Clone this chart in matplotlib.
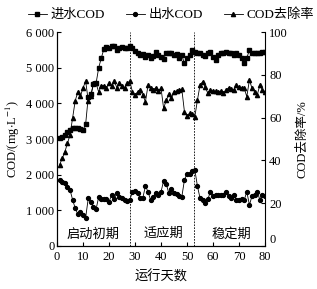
import numpy as np
import matplotlib
matplotlib.use("Agg")
import matplotlib.pyplot as plt

plt.rcParams['font.family'] = ['Liberation Serif', 'Noto Sans CJK SC']
plt.rcParams['mathtext.fontset'] = 'stix'
plt.rcParams['font.size'] = 9

# 运行天数
days = np.arange(1, 81)

# 进水COD (mg/L)
influent = [3020, 3060, 3110, 3200, 3250, 3300, 3310, 3300, 3280, 3250,
            3420, 4180, 4250, 4540, 4560, 4990, 5270, 5520, 5590, 5550,
            5600, 5600, 5500, 5550, 5580, 5540, 5560, 5600, 5560, 5480,
            5410, 5360, 5380, 5300, 5350, 5270, 5330, 5430, 5350, 5300,
            5240, 5420, 5400, 5400, 5370, 5390, 5280, 5350, 5120, 5260,
            5370, 5490, 5440, 5400, 5400, 5350, 5330, 5400, 5440, 5300,
            5210, 5370, 5400, 5400, 5440, 5400, 5400, 5350, 5400, 5350,
            5260, 5120, 5280, 5490, 5400, 5420, 5400, 5400, 5430, 5430]

# 出水COD (mg/L)
effluent = [1850, 1800, 1755, 1660, 1570, 1290, 1055, 890, 960, 870,
            795, 1335, 1240, 1080, 1030, 1365, 1330, 1330, 1330, 1240,
            1430, 1320, 1480, 1380, 1340, 1290, 1260, 1290, 1520, 1550,
            1480, 1340, 1350, 1680, 1520, 1290, 1380, 1480, 1430, 1520,
            1830, 1740, 1480, 1610, 1480, 1460, 1400, 1380, 1850, 2030,
            2010, 2100, 2130, 1680, 1340, 1290, 1215, 1310, 1520, 1400,
            1430, 1430, 1430, 1420, 1520, 1400, 1340, 1430, 1300, 1290,
            1310, 1290, 1520, 1150, 1400, 1430, 1520, 1300, 1440, 1400]

# COD去除率 (%)
removal = [38, 41, 44, 48, 52, 60, 68, 72, 70, 74,
           77, 68, 70, 76, 76, 72, 75, 75, 74, 76,
           75, 77, 74, 76, 75, 74, 76, 77, 72, 70.6,
           72, 73, 70.6, 67.4, 75.2, 73.8, 73, 74, 72.5, 73.7,
           64.3, 68.2, 70.9, 69, 72.1, 72.4, 72.9, 73.2, 62.8, 60.9,
           62, 61.5, 60.4, 68.2, 75.2, 76.8, 74.4, 71.3, 72.9, 72.4,
           72.4, 72.1, 72.4, 71.3, 72.9, 74, 73.4, 72.9, 75.2, 74.4,
           74, 73.7, 69.8, 77.6, 73.7, 72.1, 70.5, 75.2, 72.9, 72]

# 阶段划分
phase_bounds = [28, 52.8]
phase_names = ['启动初期', '适应期', '稳定期']
phase_pos = [14, 41, 67]

left_ticks = [0, 1000, 2000, 3000, 4000, 5000, 6000]
left_labels = ['0', '1 000', '2 000', '3 000', '4 000', '5 000', '6 000']
right_ticks = [0, 20, 40, 60, 80, 100]
x_ticks = [0, 10, 20, 30, 40, 50, 60, 70, 80]

fig = plt.figure(figsize=(3.17, 2.89), dpi=100)
ax = fig.add_axes([0.18, 0.149, 0.656, 0.74])
ax2 = ax.twinx()

l1, = ax.plot(days, influent, 'k-', marker='s', ms=2.8, lw=0.6, label='进水COD')
l2, = ax.plot(days, effluent, 'k-', marker='o', ms=2.8, lw=0.6, label='出水COD')
l3, = ax2.plot(days, removal, 'k-', marker='^', ms=3, lw=0.6, label='COD去除率')

for b in phase_bounds:
    ax.axvline(b, color='k', ls=(0, (2, 1.5)), lw=0.6)
for name, p in zip(phase_names, phase_pos):
    ax.text(p, 330, name, ha='center', va='center', fontsize=9.5)

ax.set_xlim(0, 80)
ax.set_ylim(0, 6000)
ax2.set_ylim(0, 100)
ax.set_xticks(x_ticks)
ax.set_yticks(left_ticks)
ax.set_yticklabels(left_labels)
ax2.set_yticks(right_ticks)

for a in (ax, ax2):
    a.spines['top'].set_visible(False)
    a.tick_params(direction='in', length=3, width=0.8, labelsize=9, pad=2)
ax.spines['right'].set_visible(False)
ax.tick_params(axis='x', pad=4)
ax2.tick_params(axis='y', pad=3)
# 右轴的0稍微上移, 避免与80重叠
ax2.get_yticklabels()[0].set_verticalalignment('bottom')

ax.set_xlabel('运行天数', fontsize=9.5, labelpad=5)
ax.set_ylabel('COD/(mg$\\cdot$L$^{-1}$)', fontsize=9, labelpad=3)
ax2.set_ylabel('COD去除率/%', fontsize=9, labelpad=6)

fig.legend(handles=[l1, l2, l3], loc='center', bbox_to_anchor=(0.54, 0.948),
           ncol=3, frameon=False, fontsize=9.5, handlelength=1.4,
           handletextpad=0.3, columnspacing=1.6)

fig.savefig('out.png', dpi=100)
